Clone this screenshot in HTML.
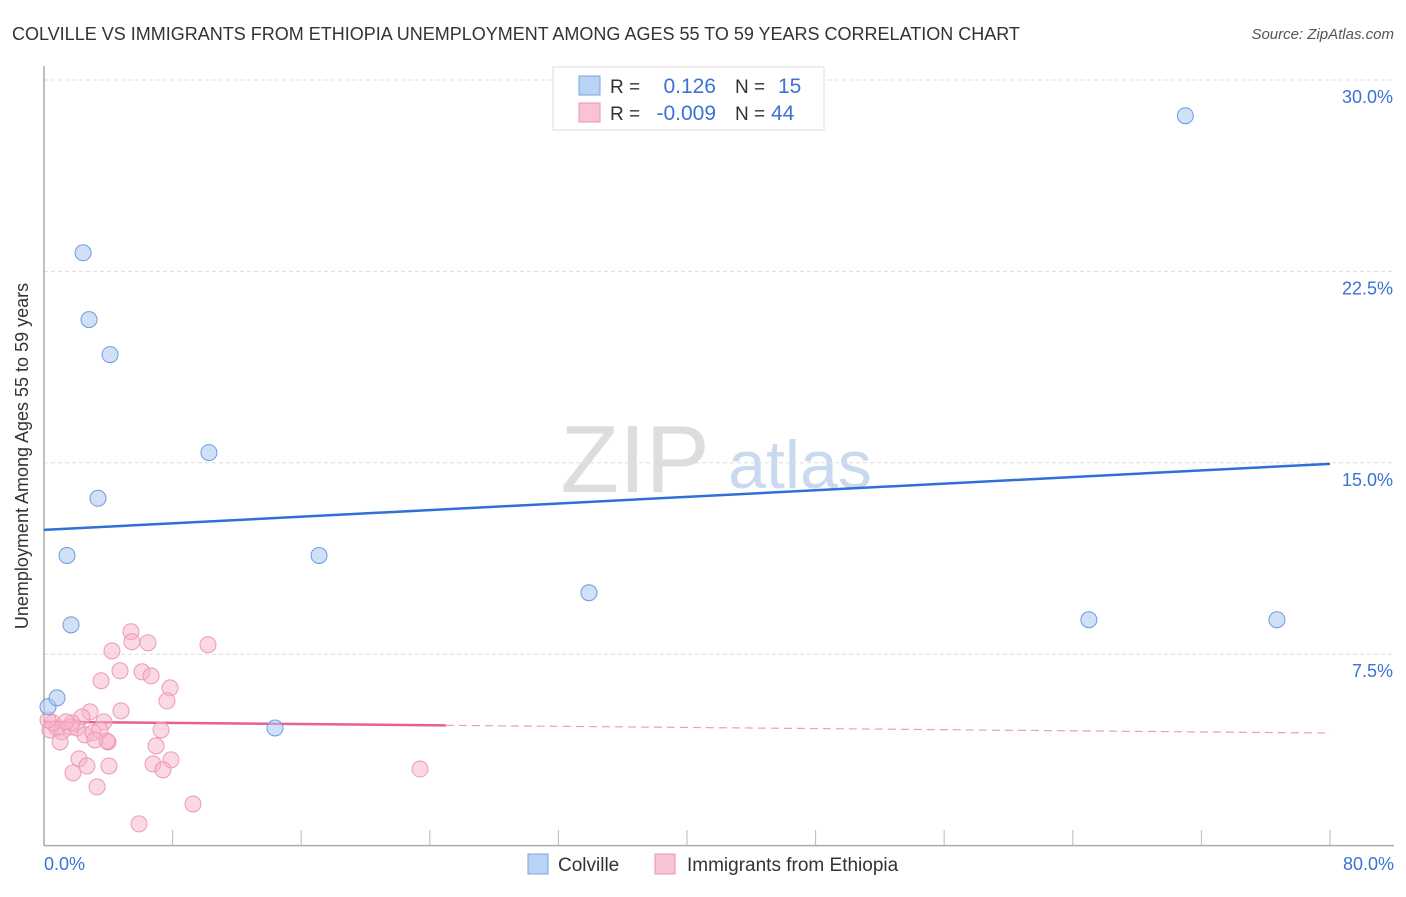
<!DOCTYPE html>
<html><head><meta charset="utf-8"><style>
body{margin:0;background:#fff;font-family:"Liberation Sans",sans-serif;}
svg text{font-family:"Liberation Sans",sans-serif;}
</style></head><body>
<svg id="chart" width="1406" height="892" viewBox="0 0 1406 892" xmlns="http://www.w3.org/2000/svg">
<text x="12" y="40" font-size="18" fill="#333">COLVILLE VS IMMIGRANTS FROM ETHIOPIA UNEMPLOYMENT AMONG AGES 55 TO 59 YEARS CORRELATION CHART</text>
<text x="1394" y="39" font-size="15" fill="#555" font-style="italic" text-anchor="end">Source: ZipAtlas.com</text>
<g>
<text x="635" y="492" font-size="96" fill="#ddd" font-family="Liberation Serif, serif" text-anchor="middle">ZIP</text>
<text x="800" y="488" font-size="68" fill="#c9daf0" text-anchor="middle">atlas</text>
</g>
<g id="grid"></g>
<g id="axes"></g>
<g id="trends"></g>
<g id="pts"></g>
<text x="28" y="456" font-size="18" fill="#333" text-anchor="middle" transform="rotate(-90 28 456)">Unemployment Among Ages 55 to 59 years</text>
<g>
<rect x="553" y="67" width="271" height="63" fill="#fff" stroke="#ddd"/>
<rect x="579" y="76" width="21" height="19" fill="#b9d3f5" stroke="#7aa3dd"/>
<rect x="579" y="103" width="21" height="19" fill="#f9c3d4" stroke="#e994b0"/>
<text x="610" y="93" font-size="19" fill="#333">R =</text>
<text x="716" y="93" font-size="21" fill="#3b72d4" text-anchor="end">0.126</text>
<text x="735" y="93" font-size="19" fill="#333">N =</text>
<text x="778" y="93" font-size="21" fill="#3b72d4">15</text>
<text x="610" y="120" font-size="19" fill="#333">R =</text>
<text x="716" y="120" font-size="21" fill="#3b72d4" text-anchor="end">-0.009</text>
<text x="735" y="120" font-size="19" fill="#333">N =</text>
<text x="771" y="120" font-size="21" fill="#3b72d4">44</text>
</g>
<g>
<rect x="528" y="854" width="20" height="20" fill="#b9d3f5" stroke="#7aa3dd"/>
<text x="558" y="871" font-size="19" fill="#333">Colville</text>
<rect x="655" y="854" width="20" height="20" fill="#f9c3d4" stroke="#e994b0"/>
<text x="687" y="871" font-size="19" fill="#333">Immigrants from Ethiopia</text>
</g>
</svg>
<script>
const yTicks=[7.5,15,22.5,30];
const yTickLabels=["7.5%","15.0%","22.5%","30.0%"];
const xTickLabels=["0.0%","80.0%"];
const colvilleX=[0.25,0.81,2.43,2.80,4.11,1.43,3.36,1.68,10.26,17.11,14.37,33.9,65.0,76.7,71.0];
const colvilleY=[5.44,5.79,23.23,20.61,19.24,11.37,13.61,8.65,15.40,11.37,4.61,9.91,8.85,8.85,28.6];
const ethX=[5.41,5.47,6.47,10.20,4.23,3.55,4.73,6.10,6.66,7.84,7.65,4.79,2.86,2.36,3.73,7.28,6.97,3.98,3.92,2.18,2.67,4.04,1.80,6.78,7.90,7.40,3.30,9.27,5.91,23.39,0.37,0.81,1.12,1.00,1.62,2.05,2.55,3.05,0.56,1.74,0.25,1.37,3.48,3.17];
const ethY=[8.38,7.99,7.95,7.87,7.63,6.46,6.85,6.81,6.65,6.18,5.67,5.28,5.24,5.04,4.85,4.53,3.91,4.06,4.10,3.40,3.12,3.12,2.85,3.20,3.36,2.97,2.30,1.63,0.85,3.00,4.53,4.61,4.46,4.06,4.65,4.61,4.34,4.42,4.81,4.81,4.92,4.85,4.53,4.14];
const colvilleTrend=[12.37,14.96];
const ethTrend=[4.85,4.41];
const NS="http://www.w3.org/2000/svg";
const X0=44,X1=1330,Y0=845.6,Y30=80;
function sx(v){return X0+(X1-X0)*v/80;}
function sy(v){return Y0-(Y0-Y30)*v/30;}
function mk(tag,attrs,parent){const e=document.createElementNS(NS,tag);for(const k in attrs)e.setAttribute(k,attrs[k]);parent.appendChild(e);return e;}
const grid=document.getElementById('grid'),axes=document.getElementById('axes'),trends=document.getElementById('trends'),pts=document.getElementById('pts');
yTicks.forEach((t,i)=>{
  const l=mk('line',{x1:X0,x2:1394,y1:sy(t),y2:sy(t),stroke:'#ddd','stroke-dasharray':'4,3'},grid);
  
  
  const tx=mk('text',{x:1393,y:sy(t)+23,'font-size':18,fill:'#3b72d4','text-anchor':'end'},axes);
  tx.textContent=yTickLabels[i];
  
  
});
mk('line',{x1:X0,x2:X0,y1:66,y2:Y0,stroke:'#aaa','stroke-width':1.5},axes);
mk('line',{x1:X0,x2:1394,y1:Y0,y2:Y0,stroke:'#aaa','stroke-width':1.5},axes);
for(let i=1;i<=10;i++){const x=sx(i*8);mk('line',{x1:x,x2:x,y1:830,y2:Y0,stroke:'#bbb'},axes);}
const xl0=mk('text',{x:X0,y:870,'font-size':18,fill:'#3b72d4'},axes);xl0.textContent=xTickLabels[0];


const xl1=mk('text',{x:1394,y:870,'font-size':18,fill:'#3b72d4','text-anchor':'end'},axes);xl1.textContent=xTickLabels[1];


// trends
const bt=mk('line',{x1:sx(0),y1:sy(colvilleTrend[0]),x2:sx(80),y2:sy(colvilleTrend[1]),stroke:'#2f6fd6','stroke-width':2.5},trends);


const xs=25;const ymid=ethTrend[0]+(ethTrend[1]-ethTrend[0])*xs/80;
const pt=mk('line',{x1:sx(0),y1:sy(ethTrend[0]),x2:sx(xs),y2:sy(ymid),stroke:'#e7608e','stroke-width':2.5},trends);


const pd=mk('line',{x1:sx(xs),y1:sy(ymid),x2:sx(80),y2:sy(ethTrend[1]),stroke:'#e7a0b8','stroke-width':1.2,'stroke-dasharray':'8,5'},trends);


ethX.forEach((v,i)=>{
  const c=mk('circle',{cx:sx(v),cy:sy(ethY[i]),r:8,fill:'rgba(248,180,202,0.5)',stroke:'#eb9ab5','stroke-width':1},pts);
  
  
});
colvilleX.forEach((v,i)=>{
  const c=mk('circle',{cx:sx(v),cy:sy(colvilleY[i]),r:8,fill:'rgba(170,200,240,0.55)',stroke:'#6b9be0','stroke-width':1},pts);
  
  
});
</script>
</body></html>
